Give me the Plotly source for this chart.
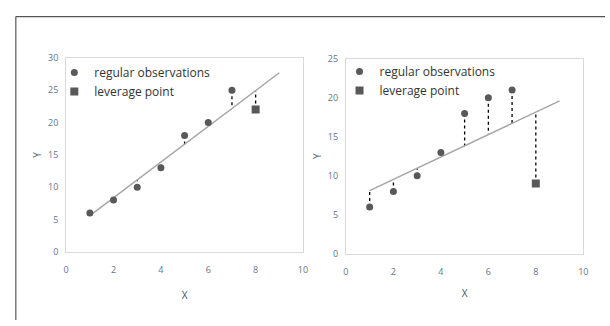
import plotly.graph_objects as go

# ---- data ----
x_vals = [1, 2, 3, 4, 5, 6, 7]
left_y = [6, 8, 10, 13, 18, 20, 25]
right_y = [6, 8, 10, 13, 18, 20, 21]
lev_x = [8]
left_lev_y = [22]
right_lev_y = [9]

# fitted values at x = 1..8
left_fit = [5.6, 8.3, 11.1, 13.9, 16.6, 19.4, 22.2, 24.9]
right_fit = [8.1, 9.5, 11.0, 12.4, 13.8, 15.3, 16.7, 18.2]
line_x = [1, 9]
left_line_y = [5.6, 27.7]
right_line_y = [8.1, 19.6]

x_ticks = [0, 2, 4, 6, 8, 10]
left_y_ticks = [0, 5, 10, 15, 20, 25, 30]
right_y_ticks = [0, 5, 10, 15, 20, 25]

MARK = "#595959"
LINE = "#a6a6a6"
TICKC = "#687487"
FONT = "Open Sans, sans-serif"

fig = go.Figure()

def add_panel(xa, ya, ys, lev_ys, fit, line_y, legend):
    rx, ry = [], []
    for xv, yv, fv in zip(x_vals + lev_x, ys + lev_ys, fit):
        rx += [xv, xv, None]
        ry += [yv, fv, None]
    fig.add_trace(go.Scatter(x=rx, y=ry, mode="lines", xaxis=xa, yaxis=ya,
                             line=dict(color="black", width=1.3, dash="dot"),
                             showlegend=False, hoverinfo="skip"))
    fig.add_trace(go.Scatter(x=line_x, y=line_y, mode="lines", xaxis=xa, yaxis=ya,
                             line=dict(color=LINE, width=1.5),
                             showlegend=False, hoverinfo="skip"))
    fig.add_trace(go.Scatter(x=x_vals, y=ys, mode="markers", xaxis=xa, yaxis=ya,
                             name="regular observations", legend=legend,
                             marker=dict(color=MARK, size=7, symbol="circle")))
    fig.add_trace(go.Scatter(x=lev_x, y=lev_ys, mode="markers", xaxis=xa, yaxis=ya,
                             name="leverage point", legend=legend,
                             marker=dict(color=MARK, size=8, symbol="square")))

add_panel("x", "y", left_y, left_lev_y, left_fit, left_line_y, "legend")
add_panel("x2", "y2", right_y, right_lev_y, right_fit, right_line_y, "legend2")

W, H = 610, 326
axis_common = dict(showgrid=False, zeroline=False, showline=True, mirror=True,
                   linecolor="#d9d9d9", linewidth=1, ticks="",
                   tickfont=dict(family=FONT, size=9, color=TICKC))
title_font = dict(family=FONT, size=10, color="#44546a")

fig.update_layout(
    width=W, height=H,
    margin=dict(l=0, r=0, t=0, b=0),
    paper_bgcolor="white", plot_bgcolor="white",
    font=dict(family=FONT, color="#404040"),
    xaxis=dict(domain=[64 / W, 304 / W], range=[0, 10], tickvals=x_ticks, anchor="y",
               ticklabelstandoff=9,
               title=dict(text="X", font=title_font, standoff=17), **axis_common),
    yaxis=dict(domain=[(H - 255) / H, (H - 53) / H], range=[0, 30], tickvals=left_y_ticks, anchor="x",
               ticklabelstandoff=5,
               title=dict(text="Y", font=title_font, standoff=4), **axis_common),
    xaxis2=dict(domain=[347.5 / W, 588 / W], range=[0, 10], tickvals=x_ticks, anchor="y2",
                ticklabelstandoff=9,
                title=dict(text="X", font=title_font, standoff=13), **axis_common),
    yaxis2=dict(domain=[(H - 257) / H, (H - 54) / H], range=[0, 25], tickvals=right_y_ticks, anchor="x2",
                ticklabelstandoff=5,
                title=dict(text="Y", font=title_font, standoff=4), **axis_common),
    legend=dict(x=52 / W, y=(H - 53) / H, xanchor="left", yanchor="top",
                bgcolor="rgba(0,0,0,0)", font=dict(family=FONT, size=12, color="#333333"),
                tracegroupgap=0, itemwidth=30),
    legend2=dict(x=341 / W, y=(H - 52) / H, xanchor="left", yanchor="top",
                 bgcolor="rgba(0,0,0,0)", font=dict(family=FONT, size=12, color="#333333"),
                 tracegroupgap=0, itemwidth=30),
    shapes=[
        dict(type="line", xref="paper", yref="paper", x0=13 / W, x1=1, y0=(H - 10) / H, y1=(H - 10) / H,
             line=dict(color="#555555", width=1.2)),
        dict(type="line", xref="paper", yref="paper", x0=13 / W, x1=13 / W, y0=0, y1=(H - 10) / H,
             line=dict(color="#555555", width=1.2)),
    ],
)

fig.write_html("out.html", config={"displayModeBar": False},
               post_script="document.body.style.margin='0';document.body.style.overflow='hidden';")
